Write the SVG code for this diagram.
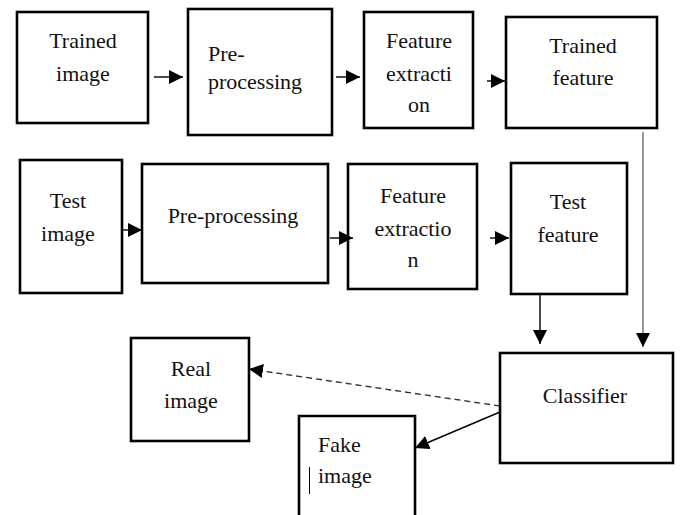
<svg xmlns="http://www.w3.org/2000/svg" width="680" height="515" viewBox="0 0 680 515">
<style>
.box{fill:#fff;stroke:#000;stroke-width:2.6}
.t{font-size:22px;fill:#111;text-anchor:middle}
.tl{text-anchor:start}
.c{stroke:#000;stroke-width:1.4;fill:none}
.g{stroke:#555;stroke-width:1.2;fill:none}
.d{stroke:#333;stroke-width:1.4;fill:none;stroke-dasharray:6 4}
</style>
<defs>
<marker id="ah" markerUnits="userSpaceOnUse" markerWidth="16" markerHeight="14" refX="14" refY="7" orient="auto">
<path d="M0,0 L14,7 L0,14 Z" fill="#000"/>
</marker>
</defs>
<rect width="680" height="515" fill="#fff"/>
<g font-family="Liberation Serif, DejaVu Serif, serif">
<g id="trained-image">
<rect class="box" x="17" y="12" width="131" height="111"/>
<text class="t" x="83" y="48">Trained</text>
<text class="t" x="83" y="81">image</text>
</g>
<g id="pre-processing-1">
<rect class="box" x="188" y="9" width="144" height="126"/>
<text class="t tl" x="208" y="61">Pre-</text>
<text class="t tl" x="208" y="89">processing</text>
</g>
<g id="feature-extraction-1">
<rect class="box" x="364" y="12" width="109" height="116"/>
<text class="t" x="419" y="48">Feature</text>
<text class="t" x="419" y="81">extracti</text>
<text class="t" x="419" y="112">on</text>
</g>
<g id="trained-feature">
<rect class="box" x="506" y="17" width="151" height="111"/>
<text class="t" x="583" y="53">Trained</text>
<text class="t" x="583" y="85">feature</text>
</g>

<g id="test-image">
<rect class="box" x="20" y="160" width="102" height="133"/>
<text class="t" x="68" y="208">Test</text>
<text class="t" x="68" y="241">image</text>
</g>
<g id="pre-processing-2">
<rect class="box" x="142" y="164" width="186" height="119"/>
<text class="t" x="233" y="223">Pre-processing</text>
</g>
<g id="feature-extraction-2">
<rect class="box" x="348" y="164" width="129" height="125"/>
<text class="t" x="413" y="203">Feature</text>
<text class="t" x="413" y="236">extractio</text>
<text class="t" x="413" y="267">n</text>
</g>
<g id="test-feature">
<rect class="box" x="511" y="163" width="116" height="131"/>
<text class="t" x="568" y="209">Test</text>
<text class="t" x="568" y="242">feature</text>
</g>

<g id="classifier">
<rect class="box" x="500" y="353" width="173" height="110"/>
<text class="t" x="585" y="403">Classifier</text>
</g>
<g id="real-image">
<rect class="box" x="131" y="338" width="118" height="103"/>
<text class="t" x="191" y="376">Real</text>
<text class="t" x="191" y="408">image</text>
</g>
<g id="fake-image">
<path class="box" d="M299,520 V416 H415 V520"/>
<text class="t tl" x="318" y="452">Fake</text>
<text class="t tl" x="318" y="483">image</text>
<line x1="309.5" y1="467" x2="309.5" y2="494" stroke="#000" stroke-width="1"/>
</g>
</g>
<g id="connectors">
<line class="c" x1="154" y1="77" x2="183" y2="77" marker-end="url(#ah)"/>
<line class="c" x1="336" y1="77" x2="360" y2="77" marker-end="url(#ah)"/>
<line class="c" x1="487" y1="81" x2="505" y2="81" marker-end="url(#ah)"/>
<line class="c" x1="122" y1="230" x2="142" y2="230" marker-end="url(#ah)"/>
<line class="c" x1="330" y1="238" x2="353" y2="238" marker-end="url(#ah)"/>
<line class="c" x1="490" y1="238" x2="509" y2="238" marker-end="url(#ah)"/>
<line class="g" x1="643" y1="132" x2="643" y2="347" marker-end="url(#ah)"/>
<line class="c" x1="540" y1="294" x2="540" y2="344" marker-end="url(#ah)"/>
<line class="d" x1="500" y1="406" x2="249" y2="369" marker-end="url(#ah)"/>
<line class="c" x1="500" y1="412" x2="415" y2="448" marker-end="url(#ah)"/>
</g>
</svg>
